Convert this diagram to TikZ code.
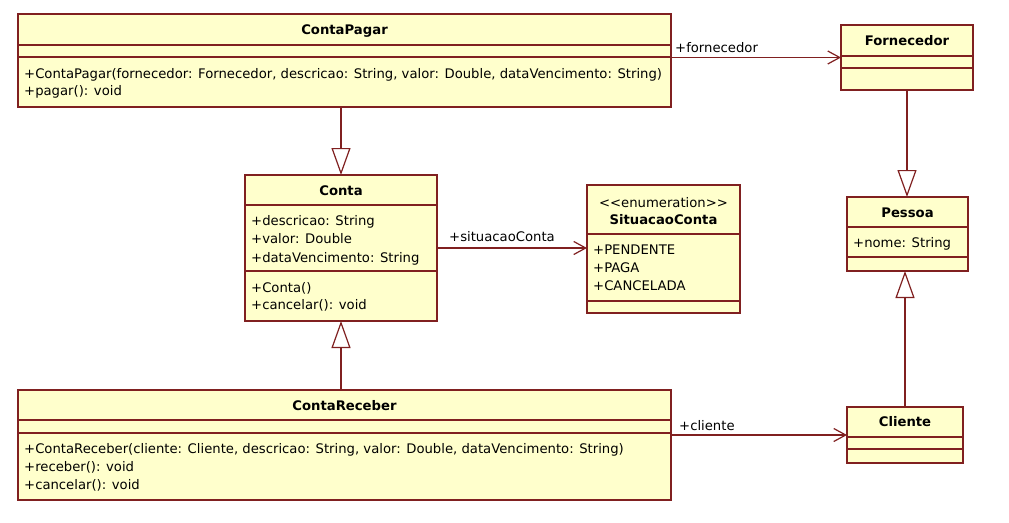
\documentclass[tikz,border=0pt]{standalone}
\usepackage{fontspec}
\setmainfont{DejaVu Sans}
\usetikzlibrary{arrows.meta,calc}
\definecolor{umlline}{RGB}{128,32,32}
\definecolor{umlfill}{RGB}{255,255,204}
\begin{document}
\begin{tikzpicture}[x=1pt,y=-1pt,
  cls/.style={draw=umlline, fill=umlfill, line width=1.2pt, rectangle, inner sep=0pt, outer sep=0pt, anchor=north west},
  sep/.style={draw=umlline, line width=1.2pt},
  txt/.style={anchor=base west, inner sep=0pt, font=\fontsize{13.2}{15}\selectfont},
  ttl/.style={anchor=base, inner sep=0pt, font=\fontsize{13.2}{15}\selectfont\bfseries},
  stereo/.style={anchor=base, inner sep=0pt, font=\fontsize{13.2}{15}\selectfont},
  gen/.style={draw=umlline, line width=1.2pt, -{Triangle[length=27pt, width=19pt, fill=white]}},
  assoc/.style={draw=umlline, line width=1.2pt, -{Straight Barb[length=12pt, width=13pt]}},
]
\useasboundingbox[fill=white] (0,0) rectangle (1009,522);

% ContaPagar
\node[cls, minimum width=653pt, minimum height=93pt] (cp) at (18,14) {};
\draw[sep] ($(cp.north west)+(0,31)$) -- ($(cp.north east)+(0,31)$);
\draw[sep] ($(cp.north west)+(0,43)$) -- ($(cp.north east)+(0,43)$);
\node[ttl] (cpt) at (344.5,34) {ContaPagar};
\node[txt] (cpo1) at (24,78) {+ContaPagar(fornecedor: Fornecedor, descricao: String, valor: Double, dataVencimento: String)};
\node[txt] (cpo2) at (24,95) {+pagar(): void};

% Fornecedor
\node[cls, minimum width=132pt, minimum height=65pt] (forn) at (841,25) {};
\draw[sep] ($(forn.north west)+(0,31)$) -- ($(forn.north east)+(0,31)$);
\draw[sep] ($(forn.north west)+(0,43)$) -- ($(forn.north east)+(0,43)$);
\node[ttl] (fornt) at (907,45) {Fornecedor};

% Conta
\node[cls, minimum width=192pt, minimum height=146pt] (conta) at (245,175) {};
\draw[sep] ($(conta.north west)+(0,30)$) -- ($(conta.north east)+(0,30)$);
\draw[sep] ($(conta.north west)+(0,96)$) -- ($(conta.north east)+(0,96)$);
\node[ttl] (contat) at (341,195) {Conta};
\node[txt] (ca1) at (251,225) {+descricao: String};
\node[txt] (ca2) at (251,243) {+valor: Double};
\node[txt] (ca3) at (251,262) {+dataVencimento: String};
\node[txt] (co1) at (251,292) {+Conta()};
\node[txt] (co2) at (251,309) {+cancelar(): void};

% SituacaoConta
\node[cls, minimum width=153pt, minimum height=128pt] (sit) at (587,185) {};
\draw[sep] ($(sit.north west)+(0,49)$) -- ($(sit.north east)+(0,49)$);
\draw[sep] ($(sit.north west)+(0,116)$) -- ($(sit.north east)+(0,116)$);
\node[stereo] (sits) at (663.5,207) {<\kern0pt<enumeration>\kern0pt>};
\node[ttl] (sitt) at (663.5,224) {SituacaoConta};
\node[txt] (si1) at (593,254) {+PENDENTE};
\node[txt] (si2) at (593,272) {+PAGA};
\node[txt] (si3) at (593,290) {+CANCELADA};

% Pessoa
\node[cls, minimum width=121pt, minimum height=74pt] (pes) at (847,197) {};
\draw[sep] ($(pes.north west)+(0,30)$) -- ($(pes.north east)+(0,30)$);
\draw[sep] ($(pes.north west)+(0,60)$) -- ($(pes.north east)+(0,60)$);
\node[ttl] (pest) at (907.5,217) {Pessoa};
\node[txt] (pesa) at (853,247) {+nome: String};

% Cliente
\node[cls, minimum width=116pt, minimum height=56pt] (cli) at (847,407) {};
\draw[sep] ($(cli.north west)+(0,30)$) -- ($(cli.north east)+(0,30)$);
\draw[sep] ($(cli.north west)+(0,42)$) -- ($(cli.north east)+(0,42)$);
\node[ttl] (clit) at (905,426) {Cliente};

% ContaReceber
\node[cls, minimum width=653pt, minimum height=110pt] (cr) at (18,390) {};
\draw[sep] ($(cr.north west)+(0,30)$) -- ($(cr.north east)+(0,30)$);
\draw[sep] ($(cr.north west)+(0,43)$) -- ($(cr.north east)+(0,43)$);
\node[ttl] (crt) at (344.5,410) {ContaReceber};
\node[txt] (cro1) at (24,453) {+ContaReceber(cliente: Cliente, descricao: String, valor: Double, dataVencimento: String)};
\node[txt] (cro2) at (24,471) {+receber(): void};
\node[txt] (cro3) at (24,489) {+cancelar(): void};

% Connectors
\draw[gen] (conta.north |- cp.south) -- (conta.north);
\draw[gen] (conta.south |- cr.north) -- (conta.south);
\draw[gen] (forn.south) -- (forn.south |- pes.north);
\draw[gen] (cli.north) -- (cli.north |- pes.south);
\draw[assoc] (cp.east |- forn.west) -- (forn.west);
\draw[assoc] (conta.east) -- (sit.west |- conta.east);
\draw[assoc] (cr.east |- cli.west) -- (cli.west);

% Labels
\node[txt] (lf) at (675,52) {+fornecedor};
\node[txt] (ls) at (449,241) {+situacaoConta};
\node[txt] (lc) at (679,430) {+cliente};
\end{tikzpicture}
\end{document}
